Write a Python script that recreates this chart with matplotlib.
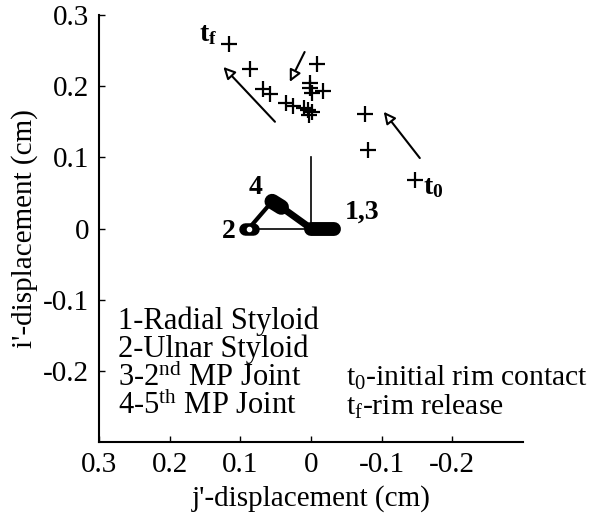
import matplotlib
matplotlib.use('Agg')
import matplotlib.pyplot as plt

plt.rcParams['font.family'] = ['Liberation Serif', 'DejaVu Serif']
plt.rcParams['mathtext.fontset'] = 'custom'
plt.rcParams['mathtext.rm'] = 'Liberation Serif'
plt.rcParams['mathtext.it'] = 'Liberation Serif:italic'
plt.rcParams['mathtext.bf'] = 'Liberation Serif:bold'

# wrist-centre positions over the rim contact (j', i' in cm)
path_j = [0.116, 0.086, 0.068, 0.058, 0.035, 0.026, -0.009, -0.017, 0.001,
          0.001, -0.001, 0.004, 0.003, -0.001, 0.010, -0.076, -0.081, -0.147]
path_i = [0.259, 0.224, 0.196, 0.189, 0.176, 0.172, 0.231, 0.193, 0.204,
          0.197, 0.190, 0.167, 0.160, 0.164, 0.169, 0.161, 0.110, 0.068]

# hand landmarks: 1 radial styloid, 2 ulnar styloid, 3 2nd MP, 4 5th MP
radial = (0.0, 0.0)
ulnar = (0.088, 0.0)
mp5 = (0.055, 0.038)
mp5_end = (0.042, 0.030)
mp2_end = (-0.032, 0.0)
i_axis_top = 0.1

# direction arrows (tail j, tail i, head j, head i)
arrows = [
    (0.051, 0.150, 0.124, 0.227),
    (0.009, 0.248, 0.030, 0.206),
    (-0.154, 0.099, -0.103, 0.164),
]

legend_left = ['1-Radial Styloid', '2-Ulnar Styloid',
               r'3-2$^{\mathrm{nd}}$ MP Joint', r'4-5$^{\mathrm{th}}$ MP Joint']
legend_right = [r'$\mathrm{t}_\mathrm{0}$-initial rim contact',
                r'$\mathrm{t}_\mathrm{f}$-rim release']

fig = plt.figure(figsize=(5.94, 5.17), dpi=100)
ax = fig.add_axes([0.1667, 0.145, 0.7137, 0.826])

ax.plot(path_j, path_i, linestyle='none', marker='+', markersize=11,
        markeredgewidth=1.6, color='black')

# hand outline
ax.plot([ulnar[0], radial[0]], [ulnar[1], radial[1]], color='black', lw=1.2)
ax.plot([radial[0], radial[0]], [radial[1], i_axis_top], color='black', lw=1.2)
ax.plot([ulnar[0], mp5[0]], [ulnar[1], mp5[1]], color='black', lw=3,
        solid_capstyle='round')
ax.plot([mp5_end[0], radial[0]], [mp5_end[1], radial[1]], color='black', lw=5,
        solid_capstyle='round')
# landmark traces
ax.plot([ulnar[0] + 0.006, ulnar[0] - 0.006], [0, 0], color='black', lw=9,
        solid_capstyle='round')
ax.plot([mp5[0], mp5_end[0]], [mp5[1], mp5_end[1]], color='black', lw=11,
        solid_capstyle='round')
ax.plot([radial[0], mp2_end[0]], [0, 0], color='black', lw=10,
        solid_capstyle='round')
ax.plot([ulnar[0]], [0.0], marker='o', markersize=3, color='white')

for tj, ti, hj, hi in arrows:
    ax.annotate('', xy=(hj, hi), xytext=(tj, ti),
                arrowprops=dict(arrowstyle='-|>,head_length=0.7,head_width=0.35',
                                fc='white', ec='black', lw=1.5,
                                shrinkA=0, shrinkB=0))

bold = dict(fontsize=20, fontweight='bold', color='black')
ax.text(0.146, 0.272, r'$\mathbf{t}_\mathbf{f}$', ha='center', va='center', **bold)
ax.text(-0.173, 0.057, r'$\mathbf{t}_\mathbf{0}$', ha='center', va='center', **bold)
ax.text(0.079, 0.057, '4', ha='center', va='center', **bold)
ax.text(0.117, -0.004, '2', ha='center', va='center', **bold)
ax.text(-0.072, 0.023, '1,3', ha='center', va='center', **bold)

for k, s in enumerate(legend_left):
    ax.text(0.273, -0.130 - k * 0.040, s, fontsize=22, va='center', ha='left')
for k, s in enumerate(legend_right):
    ax.text(-0.050, -0.210 - k * 0.040, s, fontsize=21.3, va='center', ha='left')

ax.set_xlim(0.3, -0.3)
ax.set_ylim(-0.3, 0.3)
ax.set_xticks([0.3, 0.2, 0.1, 0, -0.1, -0.2])
ax.set_xticklabels(['0.3', '0.2', '0.1', '0', '-0.1', '-0.2'])
ax.set_yticks([-0.2, -0.1, 0, 0.1, 0.2, 0.3])
ax.set_yticklabels(['-0.2', '-0.1', '0', '0.1', '0.2', '0.3'])
ax.tick_params(direction='in', length=4, width=1, labelsize=21, pad=7)
ax.spines['top'].set_visible(False)
ax.spines['right'].set_visible(False)
ax.spines['left'].set_linewidth(1.5)
ax.spines['bottom'].set_linewidth(1.5)

ax.set_xlabel("j'-displacement (cm)", fontsize=21, labelpad=5)
ax.set_ylabel("i'-displacement (cm)", fontsize=21, labelpad=4)

fig.savefig('out.png', dpi=100)
plt.close(fig)
